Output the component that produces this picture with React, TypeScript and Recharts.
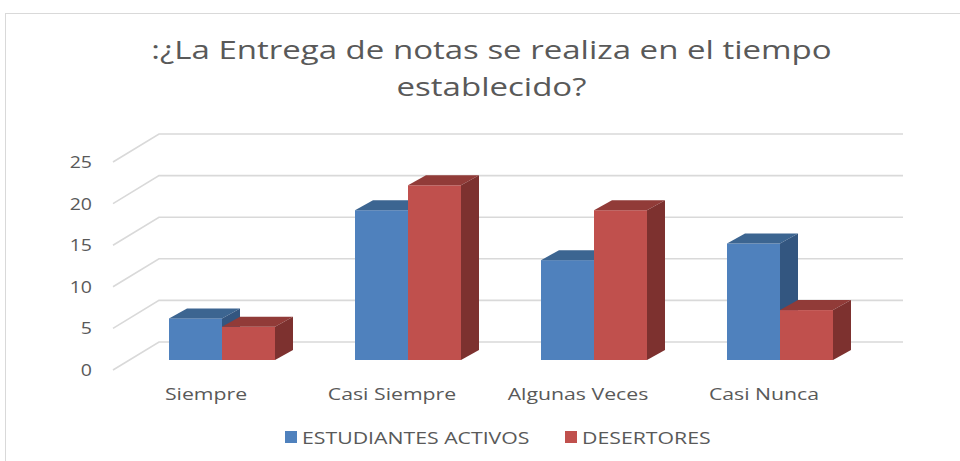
import { Bar, BarChart, CartesianGrid, XAxis, YAxis } from "recharts";

const categories = ["Siempre", "Casi Siempre", "Algunas Veces", "Casi Nunca"];
const activos = [5, 18, 12, 14];
const desertores = [4, 21, 18, 6];
const yTicks = [0, 5, 10, 15, 20, 25];
const seriesNames = ["ESTUDIANTES ACTIVOS", "DESERTORES"];

const data = categories.map((cat, i) => ({
  cat,
  activos: activos[i],
  desertores: desertores[i],
}));

const FONT = "'Open Sans', sans-serif";
const TEXT = "#595959";
const GRID = "#d9d9d9";
// the source picture is stretched sideways, so text is too
const STRETCH = 1.25;

// pseudo-3D depth of the bars and of the floor/wall
const BAR_DX = 18;
const BAR_DY = 10;
const FRONT_DX = -16;
const FRONT_DY = 10;
const BACK_DX = 30;
const BACK_DY = -18;

const BLUE = { front: "#4f81bd", top: "#3c6591", side: "#335680" };
const RED = { front: "#c0504d", top: "#913b38", side: "#7d312f" };

function make3DBar(c: { front: string; top: string; side: string }) {
  return (props: any) => {
    const { x, y, width, height } = props;
    if (!height || height <= 0) return <g />;
    const r = x + width;
    const b = y + height;
    return (
      <g>
        <rect x={x} y={y} width={width} height={height} fill={c.front} />
        <polygon
          points={`${x},${y} ${x + BAR_DX},${y - BAR_DY} ${r + BAR_DX},${y - BAR_DY} ${r},${y}`}
          fill={c.top}
        />
        <polygon
          points={`${r},${y} ${r + BAR_DX},${y - BAR_DY} ${r + BAR_DX},${b - BAR_DY} ${r},${b}`}
          fill={c.side}
        />
      </g>
    );
  };
}

function gridLine(props: any) {
  const { x1, y1, x2, key } = props;
  const d = `M${x1 + FRONT_DX},${y1 + FRONT_DY} L${x1 + BACK_DX},${y1 + BACK_DY} L${x2 + BACK_DX},${y1 + BACK_DY}`;
  return <path key={key} d={d} stroke={GRID} strokeWidth={1.6} fill="none" />;
}

function YTick(props: any) {
  const { y, payload } = props;
  return (
    <text
      transform={`translate(${129 + FRONT_DX - 21},${y + FRONT_DY - 1}) scale(1.15,1)`}
      textAnchor="end"
      dominantBaseline="central"
      fill={TEXT}
      fontFamily={FONT}
      fontSize={17}
    >
      {payload.value}
    </text>
  );
}

function XTick(props: any) {
  const { x, payload } = props;
  return (
    <text
      transform={`translate(${x + FRONT_DX},393) scale(${STRETCH},1)`}
      textAnchor="middle"
      dominantBaseline="central"
      fill={TEXT}
      fontFamily={FONT}
      fontSize={17}
    >
      {payload.value}
    </text>
  );
}

export default function App() {
  return (
    <div
      style={{
        position: "absolute",
        left: 0,
        top: 0,
        width: 960,
        height: 461,
        background: "#fff",
        overflow: "hidden",
      }}
    >
      <div
        style={{
          position: "absolute",
          left: 5,
          top: 13,
          width: 960,
          height: 460,
          border: `1px solid ${GRID}`,
          boxSizing: "border-box",
        }}
      />
      <div
        style={{
          position: "absolute",
          left: 14,
          top: 31,
          width: 955,
          textAlign: "center",
          fontFamily: FONT,
          fontSize: 25,
          lineHeight: "37px",
          color: TEXT,
          transform: "scaleX(1.32)",
          transformOrigin: "center",
        }}
      >
        :¿La Entrega de notas se realiza en el tiempo
        <br />
        establecido?
      </div>
      <BarChart
        width={960}
        height={461}
        data={data}
        barSize={53}
        barGap={0}
        margin={{ top: 152, right: 87, left: 0, bottom: 0 }}
        style={{ position: "absolute", left: 0, top: 0 }}
      >
        <CartesianGrid horizontal={gridLine} vertical={false} />
        <YAxis
          domain={[0, 25]}
          ticks={yTicks}
          width={129}
          axisLine={false}
          tickLine={false}
          tick={<YTick />}
        />
        <XAxis
          dataKey="cat"
          height={101}
          axisLine={false}
          tickLine={false}
          tick={<XTick />}
        />
        <Bar
          dataKey="activos"
          name={seriesNames[0]}
          fill={BLUE.front}
          shape={make3DBar(BLUE)}
          isAnimationActive={false}
        />
        <Bar
          dataKey="desertores"
          name={seriesNames[1]}
          fill={RED.front}
          shape={make3DBar(RED)}
          isAnimationActive={false}
        />
      </BarChart>
      {seriesNames.map((name, i) => (
        <div
          key={name}
          style={{
            position: "absolute",
            left: i === 0 ? 285 : 565,
            top: 426,
            height: 22,
            display: "flex",
            alignItems: "center",
            fontFamily: FONT,
            fontSize: 17,
            color: TEXT,
            whiteSpace: "nowrap",
          }}
        >
          <span
            style={{
              display: "inline-block",
              width: 12,
              height: 12,
              background: i === 0 ? BLUE.front : RED.front,
              marginRight: 5,
            }}
          />
          <span
            style={{
              display: "inline-block",
              transform: `scaleX(${STRETCH})`,
              transformOrigin: "left center",
            }}
          >
            {name}
          </span>
        </div>
      ))}
    </div>
  );
}
